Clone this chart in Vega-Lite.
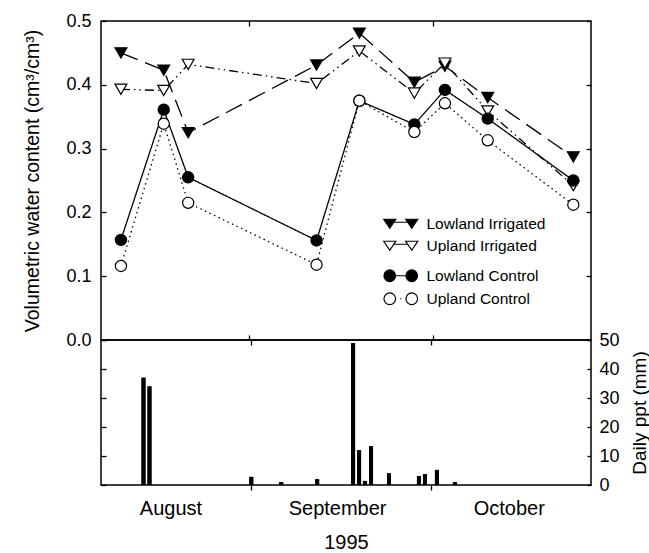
{
  "$schema": "https://vega.github.io/schema/vega-lite/v6.json",
  "background": "white",
  "padding": {"left": 22, "top": 11, "right": 5, "bottom": 5},
  "config": {
    "font": "Liberation Sans",
    "view": {"stroke": "black", "strokeWidth": 1.5},
    "axis": {"domain": false, "grid": false, "labelFont": "Liberation Sans", "titleFont": "Liberation Sans", "labelColor": "black", "titleColor": "black", "tickColor": "black", "titleFontWeight": "normal", "tickWidth": 1.3, "labelFlush": false}
  },
  "datasets": {
    "vwc": [
      {"date": "1995-08-11", "series": "Lowland Irrigated", "vwc": 0.450},
      {"date": "1995-08-18", "series": "Lowland Irrigated", "vwc": 0.423},
      {"date": "1995-08-22", "series": "Lowland Irrigated", "vwc": 0.325},
      {"date": "1995-09-12", "series": "Lowland Irrigated", "vwc": 0.431},
      {"date": "1995-09-19", "series": "Lowland Irrigated", "vwc": 0.481},
      {"date": "1995-09-28", "series": "Lowland Irrigated", "vwc": 0.404},
      {"date": "1995-10-03", "series": "Lowland Irrigated", "vwc": 0.429},
      {"date": "1995-10-10", "series": "Lowland Irrigated", "vwc": 0.380},
      {"date": "1995-10-24", "series": "Lowland Irrigated", "vwc": 0.287},
      {"date": "1995-08-11", "series": "Upland Irrigated", "vwc": 0.393},
      {"date": "1995-08-18", "series": "Upland Irrigated", "vwc": 0.391},
      {"date": "1995-08-22", "series": "Upland Irrigated", "vwc": 0.432},
      {"date": "1995-09-12", "series": "Upland Irrigated", "vwc": 0.402},
      {"date": "1995-09-19", "series": "Upland Irrigated", "vwc": 0.453},
      {"date": "1995-09-28", "series": "Upland Irrigated", "vwc": 0.387},
      {"date": "1995-10-03", "series": "Upland Irrigated", "vwc": 0.434},
      {"date": "1995-10-10", "series": "Upland Irrigated", "vwc": 0.359},
      {"date": "1995-10-24", "series": "Upland Irrigated", "vwc": 0.242},
      {"date": "1995-08-11", "series": "Lowland Control", "vwc": 0.157},
      {"date": "1995-08-18", "series": "Lowland Control", "vwc": 0.361},
      {"date": "1995-08-22", "series": "Lowland Control", "vwc": 0.255},
      {"date": "1995-09-12", "series": "Lowland Control", "vwc": 0.156},
      {"date": "1995-09-19", "series": "Lowland Control", "vwc": 0.375},
      {"date": "1995-09-28", "series": "Lowland Control", "vwc": 0.338},
      {"date": "1995-10-03", "series": "Lowland Control", "vwc": 0.392},
      {"date": "1995-10-10", "series": "Lowland Control", "vwc": 0.347},
      {"date": "1995-10-24", "series": "Lowland Control", "vwc": 0.250},
      {"date": "1995-08-11", "series": "Upland Control", "vwc": 0.116},
      {"date": "1995-08-18", "series": "Upland Control", "vwc": 0.339},
      {"date": "1995-08-22", "series": "Upland Control", "vwc": 0.215},
      {"date": "1995-09-12", "series": "Upland Control", "vwc": 0.118},
      {"date": "1995-09-19", "series": "Upland Control", "vwc": 0.375},
      {"date": "1995-09-28", "series": "Upland Control", "vwc": 0.326},
      {"date": "1995-10-03", "series": "Upland Control", "vwc": 0.371},
      {"date": "1995-10-10", "series": "Upland Control", "vwc": 0.313},
      {"date": "1995-10-24", "series": "Upland Control", "vwc": 0.212}
    ],
    "ppt": [
      {"date": "1995-08-14", "ppt": 37.0},
      {"date": "1995-08-15", "ppt": 34.0},
      {"date": "1995-09-01", "ppt": 2.8},
      {"date": "1995-09-06", "ppt": 1.0},
      {"date": "1995-09-12", "ppt": 2.0},
      {"date": "1995-09-18", "ppt": 49.0},
      {"date": "1995-09-19", "ppt": 12.0},
      {"date": "1995-09-20", "ppt": 1.4},
      {"date": "1995-09-21", "ppt": 13.4},
      {"date": "1995-09-24", "ppt": 4.0},
      {"date": "1995-09-29", "ppt": 3.1},
      {"date": "1995-09-30", "ppt": 3.7},
      {"date": "1995-10-02", "ppt": 5.2},
      {"date": "1995-10-05", "ppt": 1.0}
    ]
  },
  "vconcat": [
    {
      "width": 490,
      "height": 319,
      "data": {"name": "vwc"},
      "layer": [
        {
          "mark": {"type": "line", "color": "black", "strokeWidth": 1.3},
          "encoding": {
            "x": {"field": "date", "type": "temporal",
              "scale": {"type": "utc", "domain": [{"year": 1995, "month": 8, "date": 7, "hours": 17, "minutes": 45, "utc": true}, {"year": 1995, "month": 10, "date": 26, "hours": 21, "minutes": 30, "utc": true}]},
              "axis": {"orient": "top", "values": [{"year": 1995, "month": 9, "date": 1, "utc": true}, {"year": 1995, "month": 10, "date": 1, "utc": true}], "labels": false, "tickSize": -5, "title": null}},
            "y": {"field": "vwc", "type": "quantitative", "scale": {"domain": [0, 0.5]},
              "axis": {"orient": "left", "values": [0, 0.1, 0.2, 0.3, 0.4, 0.5], "format": ".1f", "tickSize": -5, "labelPadding": 15, "labelFontSize": 18, "title": "Volumetric water content (cm³/cm³)", "titleFontSize": 19.5, "titlePadding": 23}},
            "detail": {"field": "series", "type": "nominal"},
            "strokeDash": {"field": "series", "type": "nominal",
              "scale": {"domain": ["Lowland Irrigated", "Upland Irrigated", "Lowland Control", "Upland Control"], "range": [[18, 8], [9, 4, 1.5, 4, 1.5, 4], [1, 0], [1.5, 3.5]]},
              "legend": null}
          }
        },
        {
          "transform": [{"filter": {"field": "series", "oneOf": ["Lowland Irrigated", "Upland Irrigated"]}}],
          "mark": {"type": "point", "shape": "triangle-down", "filled": true, "stroke": "black", "strokeWidth": 1.2, "size": 140, "opacity": 1},
          "encoding": {
            "x": {"field": "date", "type": "temporal",
              "scale": {"type": "utc", "domain": [{"year": 1995, "month": 8, "date": 7, "hours": 17, "minutes": 45, "utc": true}, {"year": 1995, "month": 10, "date": 26, "hours": 21, "minutes": 30, "utc": true}]},
              "axis": {"orient": "bottom", "values": [{"year": 1995, "month": 9, "date": 1, "utc": true}, {"year": 1995, "month": 10, "date": 1, "utc": true}], "labels": false, "tickSize": -5, "title": null}},
            "y": {"field": "vwc", "type": "quantitative", "scale": {"domain": [0, 0.5]},
              "axis": {"orient": "right", "values": [0, 0.1, 0.2, 0.3, 0.4, 0.5], "labels": false, "tickSize": -5, "title": null}},
            "fill": {"field": "series", "type": "nominal",
              "scale": {"domain": ["Lowland Irrigated", "Upland Irrigated"], "range": ["black", "white"]},
              "legend": {"orient": "none", "direction": "vertical", "legendX": 275, "legendY": 195, "title": null,
                "symbolType": "M0,-4.5L12,-4.5L6,4.5ZM22,-4.5L34,-4.5L28,4.5ZM10,-1.5L24,-1.5",
                "symbolSize": 4, "symbolStrokeColor": "black", "symbolStrokeWidth": 1.2, "symbolOpacity": 1,
                "labelFontSize": 15.5, "labelFont": "Liberation Sans", "labelColor": "black", "labelOffset": 35, "rowPadding": 5, "padding": 0}}
          }
        },
        {
          "transform": [{"filter": {"field": "series", "oneOf": ["Lowland Control", "Upland Control"]}}],
          "mark": {"type": "point", "shape": "circle", "filled": true, "stroke": "black", "strokeWidth": 1.2, "size": 125, "opacity": 1},
          "encoding": {
            "x": {"field": "date", "type": "temporal",
              "scale": {"type": "utc", "domain": [{"year": 1995, "month": 8, "date": 7, "hours": 17, "minutes": 45, "utc": true}, {"year": 1995, "month": 10, "date": 26, "hours": 21, "minutes": 30, "utc": true}]},
              "axis": null},
            "y": {"field": "vwc", "type": "quantitative", "scale": {"domain": [0, 0.5]}, "axis": null},
            "fill": {"field": "series", "type": "nominal",
              "scale": {"domain": ["Lowland Control", "Upland Control"], "range": ["black", "white"]},
              "legend": {"orient": "none", "direction": "vertical", "legendX": 275, "legendY": 247, "title": null,
                "symbolType": "M0.2,0A5.8,5.8 0 1,0 11.8,0A5.8,5.8 0 1,0 0.2,0ZM22.2,0A5.8,5.8 0 1,0 33.8,0A5.8,5.8 0 1,0 22.2,0ZM11.8,0L22.2,0",
                "symbolSize": 4, "symbolStrokeColor": "black", "symbolStrokeWidth": 1.2, "symbolOpacity": 1,
                "labelFontSize": 15.5, "labelFont": "Liberation Sans", "labelColor": "black", "labelOffset": 35, "rowPadding": 5, "padding": 0,
                "encode": {"symbols": {"update": {"shape": {"signal": "datum.value === 'Upland Control' ? 'M0.2,0A5.8,5.8 0 1,0 11.8,0A5.8,5.8 0 1,0 0.2,0ZM22.2,0A5.8,5.8 0 1,0 33.8,0A5.8,5.8 0 1,0 22.2,0ZM16.4,0L17.6,0' : 'M0.2,0A5.8,5.8 0 1,0 11.8,0A5.8,5.8 0 1,0 0.2,0ZM22.2,0A5.8,5.8 0 1,0 33.8,0A5.8,5.8 0 1,0 22.2,0ZM11.8,0L22.2,0'"}}}}}}
          }
        }
      ],
      "resolve": {"scale": {"fill": "independent"}, "legend": {"fill": "independent"}, "axis": {"x": "independent", "y": "independent"}}
    },
    {
      "width": 490,
      "height": 145,
      "data": {"name": "ppt"},
      "layer": [
        {
          "mark": {"type": "bar", "color": "black", "size": 4},
          "encoding": {
            "x": {"field": "date", "type": "temporal",
              "scale": {"type": "utc", "domain": [{"year": 1995, "month": 8, "date": 7, "hours": 17, "minutes": 45, "utc": true}, {"year": 1995, "month": 10, "date": 26, "hours": 21, "minutes": 30, "utc": true}]},
              "axis": {"orient": "top", "values": [{"year": 1995, "month": 9, "date": 1, "utc": true}, {"year": 1995, "month": 10, "date": 1, "utc": true}], "labels": false, "tickSize": -5, "title": null}},
            "y": {"field": "ppt", "type": "quantitative", "scale": {"domain": [0, 50]},
              "axis": {"orient": "left", "values": [0, 10, 20, 30, 40, 50], "labels": false, "tickSize": -5, "title": null}}
          }
        },
        {
          "mark": {"type": "bar", "color": "black", "size": 4},
          "encoding": {
            "x": {"field": "date", "type": "temporal",
              "scale": {"type": "utc", "domain": [{"year": 1995, "month": 8, "date": 7, "hours": 17, "minutes": 45, "utc": true}, {"year": 1995, "month": 10, "date": 26, "hours": 21, "minutes": 30, "utc": true}]},
              "axis": {"orient": "bottom",
                "values": [{"year": 1995, "month": 8, "date": 18, "hours": 12, "utc": true}, {"year": 1995, "month": 9, "date": 1, "utc": true}, {"year": 1995, "month": 9, "date": 15, "hours": 8, "utc": true}, {"year": 1995, "month": 10, "date": 1, "utc": true}, {"year": 1995, "month": 10, "date": 14, "utc": true}],
                "labelExpr": "utcdate(datum.value) === 1 ? '' : utcFormat(datum.value, '%B')",
                "tickOpacity": {"condition": {"test": "utcdate(datum.value) === 1", "value": 1}, "value": 0},
                "tickSize": 5, "labelFontSize": 20, "labelPadding": 8, "labelOverlap": false,
                "title": "1995", "titleFontSize": 20, "titlePadding": 14}},
            "y": {"field": "ppt", "type": "quantitative", "scale": {"domain": [0, 50]},
              "axis": {"orient": "right", "values": [0, 10, 20, 30, 40, 50], "tickSize": -4, "labelPadding": 12, "labelFontSize": 18,
                "title": "Daily ppt (mm)", "titleFontSize": 19, "titleAngle": 270, "titleBaseline": "top", "titlePadding": 11}}
          }
        }
      ],
      "resolve": {"axis": {"x": "independent", "y": "independent"}}
    }
  ],
  "spacing": 0,
  "bounds": "flush"
}
